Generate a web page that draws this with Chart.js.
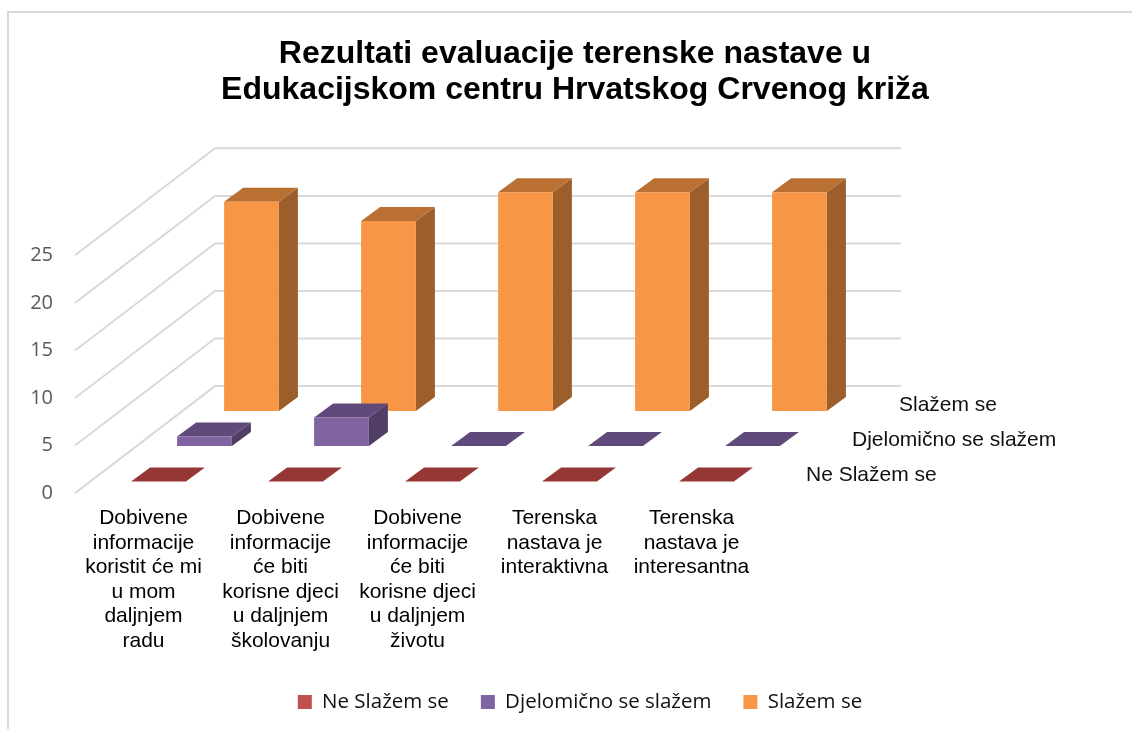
<!DOCTYPE html>
<html>
<head>
<meta charset="utf-8">
<title>Rezultati evaluacije terenske nastave</title>
<script src="https://cdn.jsdelivr.net/npm/chart.js@4"></script>
<style>
  html, body { margin: 0; padding: 0; background: #fff; }
  #wrap { position: relative; width: 1132px; height: 729px; overflow: hidden; }
  #frame { position: absolute; left: 7px; top: 11px; right: 0; bottom: 0; border-left: 2px solid #d9d9d9; border-top: 2px solid #d9d9d9; }
  canvas { position: absolute; left: 0; top: 0; }
</style>
</head>
<body>
<div id="wrap">
  <div id="frame"></div>
  <canvas id="chart" width="1132" height="729"></canvas>
</div>
<script>
const categories = [
  ["Dobivene", "informacije", "koristit će mi", "u mom", "daljnjem", "radu"],
  ["Dobivene", "informacije", "će biti", "korisne djeci", "u daljnjem", "školovanju"],
  ["Dobivene", "informacije", "će biti", "korisne djeci", "u daljnjem", "životu"],
  ["Terenska", "nastava je", "interaktivna"],
  ["Terenska", "nastava je", "interesantna"]
];
const neSlazem = [0, 0, 0, 0, 0];
const djelomicno = [1, 3, 0, 0, 0];
const slazem = [22, 20, 23, 23, 23];
const titleLines = ["Rezultati evaluacije terenske nastave u", "Edukacijskom centru Hrvatskog Crvenog križa"];

// the fake 3D box: how far the back wall sits from the front of the floor
const WALL_DX = 140, WALL_DY = 107;
const BOX_DX = 19, BOX_DY = 14;
// each series sits on its own row of the floor
const rows = [
  { dx: 15, dy: 11.5, top: "#953735", side: "#7a2f2d" },
  { dx: 61, dy: 47, top: "#604a7b", side: "#503e67" },
  { dx: 108, dy: 82, top: "#ba7032", side: "#9c5e2a" }
];

function poly(ctx, pts, fill) {
  ctx.fillStyle = fill;
  ctx.beginPath();
  pts.forEach((p, i) => i ? ctx.lineTo(p[0], p[1]) : ctx.moveTo(p[0], p[1]));
  ctx.closePath();
  ctx.fill();
}

const box3d = {
  id: "box3d",
  afterLayout(chart) {
    // legend is a bit right of the title in the original
    chart.legend.left += 5;
    chart.legend.right += 5;
  },
  beforeDatasetsDraw(chart) {
    const { ctx, scales: { x, y } } = chart;
    ctx.save();
    ctx.strokeStyle = "#d9d9d9";
    ctx.lineWidth = 2;
    y.ticks.forEach(t => {
      const py = y.getPixelForValue(t.value);
      ctx.beginPath();
      ctx.moveTo(x.left, py);
      ctx.lineTo(x.left + WALL_DX, py - WALL_DY);
      ctx.lineTo(x.right + WALL_DX + 1, py - WALL_DY);
      ctx.stroke();
    });
    ctx.restore();
  },
  beforeDatasetDraw(chart, args) {
    const r = rows[args.index];
    const ctx = chart.ctx;
    ctx.save();
    // top and side faces first, the library draws the front face on top
    ctx.translate(r.dx, -r.dy);
    args.meta.data.forEach(bar => {
      const l = bar.x - bar.width / 2, rt = bar.x + bar.width / 2;
      poly(ctx, [[rt, bar.y], [rt + BOX_DX, bar.y - BOX_DY], [rt + BOX_DX, bar.base - BOX_DY], [rt, bar.base]], r.side);
      poly(ctx, [[l, bar.y], [l + BOX_DX, bar.y - BOX_DY], [rt + BOX_DX, bar.y - BOX_DY], [rt, bar.y]], r.top);
    });
  },
  afterDatasetDraw(chart) {
    chart.ctx.restore();
  },
  afterDatasetsDraw(chart) {
    // series names along the depth axis
    const { ctx, scales: { x, y } } = chart;
    ctx.save();
    ctx.font = "21px 'Liberation Sans'";
    ctx.fillStyle = "#111";
    ctx.textAlign = "left";
    ctx.textBaseline = "middle";
    chart.data.datasets.forEach((ds, i) => {
      ctx.fillText(ds.label, x.right + rows[i].dx + 31, y.getPixelForValue(0) - rows[i].dy - 6);
    });
    ctx.restore();
  }
};

new Chart(document.getElementById("chart"), {
  type: "bar",
  data: {
    labels: categories,
    datasets: [
      { label: "Ne Slažem se", data: neSlazem, backgroundColor: "#c0504d" },
      { label: "Djelomično se slažem", data: djelomicno, backgroundColor: "#8064a2" },
      { label: "Slažem se", data: slazem, backgroundColor: "#f79646" }
    ]
  },
  plugins: [box3d],
  options: {
    responsive: false,
    animation: false,
    layout: { padding: { left: 18, right: 0, top: 0, bottom: 6.7 } },
    datasets: { bar: { grouped: false, categoryPercentage: 0.4, barPercentage: 1, clip: false } },
    plugins: {
      tooltip: { enabled: false },
      title: {
        display: true,
        text: titleLines,
        color: "#000",
        font: { family: "'Liberation Sans'", size: 32, weight: "bold", lineHeight: 1.13 },
        padding: { top: 36, bottom: 147 }
      },
      legend: {
        position: "bottom",
        labels: {
          boxWidth: 14,
          boxHeight: 14,
          padding: 32,
          color: "#111",
          font: { family: "'Open Sans'", size: 20.5 }
        }
      }
    },
    scales: {
      x: {
        grid: { display: false },
        border: { display: false },
        afterFit(s) { s.height = 166.7; },
        ticks: {
          padding: 5,
          color: "#000",
          maxRotation: 0,
          autoSkip: false,
          font: { family: "'Liberation Sans'", size: 21, lineHeight: 1.167 }
        }
      },
      y: {
        min: 0,
        max: 25,
        grid: { display: false },
        border: { display: false },
        afterFit(s) { s.width = 57; },
        ticks: { stepSize: 5, padding: 14, color: "#595959", font: { family: "'Open Sans'", size: 20 } }
      },
      // empty axis, only keeps room for the floor and the back wall on the right
      depth: {
        position: "right",
        grid: { display: false },
        border: { display: false },
        ticks: { display: false },
        afterFit(s) { s.width = 372; }
      }
    }
  }
});
</script>
</body>
</html>
